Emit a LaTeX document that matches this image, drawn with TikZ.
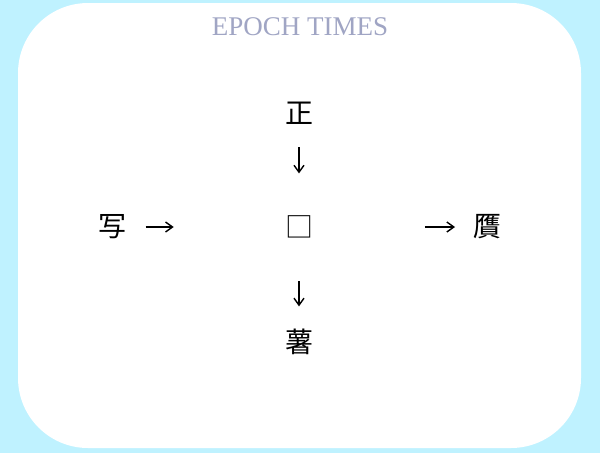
\documentclass[tikz,border=0pt]{standalone}
\usepackage{fontspec}
\usepackage{xcolor}
\usepackage{tikz}
\usetikzlibrary{calc,arrows.meta}
\newfontfamily\cjk{Noto Sans CJK JP}
\newfontfamily\mastfont{Liberation Serif}
\definecolor{SkyBack}{RGB}{191,242,255}
\definecolor{MastGray}{RGB}{160,165,196}

\tikzset{
    glyph/.style={inner sep=0pt, font=\fontsize{28}{28}\selectfont\cjk},
    arr/.style={line width=1.4pt, -{Straight Barb[length=7pt,width=10pt]}}
}

\begin{document}
\begin{tikzpicture}[x=1pt,y=1pt]
    % nền và khung trắng
    \useasboundingbox (0,0) rectangle (600,-453);
    \fill[SkyBack] (0,0) rectangle (600,-453);
    \fill[white, rounded corners=70pt] (18,-3) rectangle (581,-448);

    % tiêu đề
    \node[
        inner sep=0pt,
        text=MastGray,
        font=\fontsize{27}{27}\selectfont\mastfont
    ] (mast) at (300,-27) {EPOCH TIMES};

    % các chữ
    \node[glyph] (zheng) at (299,-113) {正};
    \node[glyph] (box)   at (299,-227) {□};
    \node[glyph] (shu)   at (299,-342) {薯};
    \node[glyph] (xie)   at (112,-227) {写};
    \node[glyph] (yan)   at (487,-227) {贋};

    % mũi tên
    \draw[arr] ($(zheng)!0.30!(box)$) -- ($(zheng)!0.53!(box)$);
    \draw[arr] ($(box)!0.47!(shu)$)   -- ($(box)!0.69!(shu)$);
    \draw[arr] ($(xie)!0.18!(box)$)   -- ($(xie)!0.33!(box)$);
    \draw[arr] ($(box)!0.67!(yan)$)   -- ($(box)!0.83!(yan)$);
\end{tikzpicture}
\end{document}
